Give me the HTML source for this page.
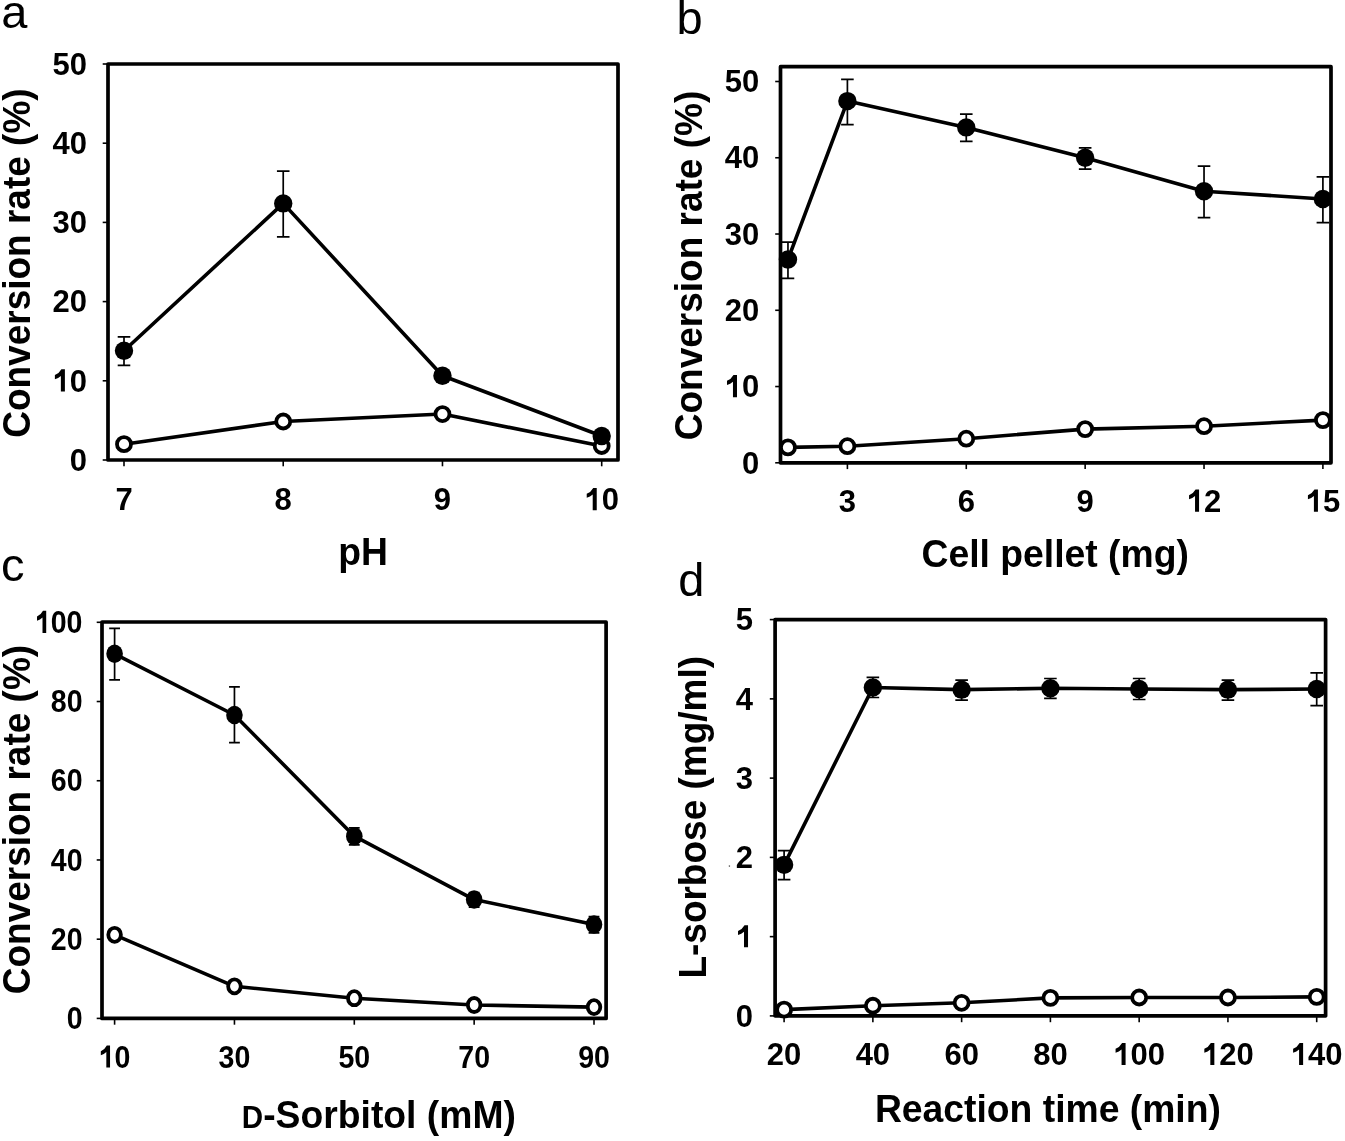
<!DOCTYPE html>
<html><head><meta charset="utf-8"><title>Figure</title>
<style>
html,body{margin:0;padding:0;background:#fff;}
body{width:1345px;height:1141px;overflow:hidden;}
svg{display:block;will-change:transform;}
text{font-family:"Liberation Sans", sans-serif;fill:#000;}
.t{font-size:31px;font-weight:bold;}
.l{font-size:37px;font-weight:bold;}
.x{font-size:37.3px;font-weight:bold;}
.p{font-size:47px;font-weight:normal;}
</style></head><body>
<svg width="1345" height="1141" viewBox="0 0 1345 1141">
<rect width="1345" height="1141" fill="#fff"/>
<line x1="102.70" y1="460.00" x2="108.00" y2="460.00" stroke="#000" stroke-width="1.6"/>
<g transform="translate(87.10,470.70) scale(1.0,1.04)"><text x="-17.241" y="0" class="t">0</text></g>
<line x1="102.70" y1="380.80" x2="108.00" y2="380.80" stroke="#000" stroke-width="1.6"/>
<g transform="translate(87.10,391.50) scale(1.0,1.04)"><text x="-34.481" y="0" class="t"> 0</text><path transform="translate(-34.481,0) scale(0.015137,-0.015137)" d="M811,0L545,0L545,990Q380,846 150,784L150,1041Q420,1135 580,1410L811,1410Z"/></g>
<line x1="102.70" y1="301.60" x2="108.00" y2="301.60" stroke="#000" stroke-width="1.6"/>
<g transform="translate(87.10,312.30) scale(1.0,1.04)"><text x="-34.481" y="0" class="t">20</text></g>
<line x1="102.70" y1="222.40" x2="108.00" y2="222.40" stroke="#000" stroke-width="1.6"/>
<g transform="translate(87.10,233.10) scale(1.0,1.04)"><text x="-34.481" y="0" class="t">30</text></g>
<line x1="102.70" y1="143.20" x2="108.00" y2="143.20" stroke="#000" stroke-width="1.6"/>
<g transform="translate(87.10,153.90) scale(1.0,1.04)"><text x="-34.481" y="0" class="t">40</text></g>
<line x1="102.70" y1="64.00" x2="108.00" y2="64.00" stroke="#000" stroke-width="1.6"/>
<g transform="translate(87.10,74.70) scale(1.0,1.04)"><text x="-34.481" y="0" class="t">50</text></g>
<line x1="124.00" y1="460.00" x2="124.00" y2="466.30" stroke="#000" stroke-width="1.6"/>
<g transform="translate(124.00,510.20) scale(1.0,1.04)"><text x="-8.620" y="0" class="t">7</text></g>
<line x1="283.23" y1="460.00" x2="283.23" y2="466.30" stroke="#000" stroke-width="1.6"/>
<g transform="translate(283.23,510.20) scale(1.0,1.04)"><text x="-8.620" y="0" class="t">8</text></g>
<line x1="442.47" y1="460.00" x2="442.47" y2="466.30" stroke="#000" stroke-width="1.6"/>
<g transform="translate(442.47,510.20) scale(1.0,1.04)"><text x="-8.620" y="0" class="t">9</text></g>
<line x1="601.70" y1="460.00" x2="601.70" y2="466.30" stroke="#000" stroke-width="1.6"/>
<g transform="translate(601.70,510.20) scale(1.0,1.04)"><text x="-17.241" y="0" class="t"> 0</text><path transform="translate(-17.241,0) scale(0.015137,-0.015137)" d="M811,0L545,0L545,990Q380,846 150,784L150,1041Q420,1135 580,1410L811,1410Z"/></g>
<rect x="108.00" y="64.00" width="510.00" height="396.00" fill="none" stroke="#000" stroke-width="3.7" stroke-linejoin="round"/>
<polyline points="124.00,444.16 283.23,421.51 442.47,414.06 601.70,445.98" fill="none" stroke="#000" stroke-width="3.6" stroke-linejoin="round"/>
<polyline points="124.00,350.70 283.23,203.39 442.47,375.73 601.70,436.00" fill="none" stroke="#000" stroke-width="3.6" stroke-linejoin="round"/>
<path d="M124.00,336.80V365.30M117.70,336.80H130.30M117.70,365.30H130.30" stroke="#000" stroke-width="1.7" fill="none"/>
<path d="M283.23,171.20V236.80M276.93,171.20H289.53M276.93,236.80H289.53" stroke="#000" stroke-width="1.7" fill="none"/>
<ellipse cx="124.00" cy="444.16" rx="7.00" ry="7.00" fill="#fff" stroke="#000" stroke-width="3.8"/>
<ellipse cx="283.23" cy="421.51" rx="7.00" ry="7.00" fill="#fff" stroke="#000" stroke-width="3.8"/>
<ellipse cx="442.47" cy="414.06" rx="7.00" ry="7.00" fill="#fff" stroke="#000" stroke-width="3.8"/>
<ellipse cx="601.70" cy="445.98" rx="7.00" ry="7.00" fill="#fff" stroke="#000" stroke-width="3.8"/>
<ellipse cx="124.00" cy="350.70" rx="9.20" ry="9.20" fill="#000"/>
<ellipse cx="283.23" cy="203.39" rx="9.20" ry="9.20" fill="#000"/>
<ellipse cx="442.47" cy="375.73" rx="9.20" ry="9.20" fill="#000"/>
<ellipse cx="601.70" cy="436.00" rx="9.20" ry="9.20" fill="#000"/>
<text transform="translate(363.00,564.50) scale(1,1.04)" text-anchor="middle" class="x">pH</text>
<text transform="translate(29.80,437.80) rotate(-90) scale(1,1.04)" class="l">Conversion rate (%)</text>
<text x="1.30" y="27.60" class="p">a</text>
<line x1="775.20" y1="462.80" x2="780.50" y2="462.80" stroke="#000" stroke-width="1.6"/>
<g transform="translate(759.20,473.50) scale(1.0,1.04)"><text x="-17.241" y="0" class="t">0</text></g>
<line x1="775.20" y1="386.54" x2="780.50" y2="386.54" stroke="#000" stroke-width="1.6"/>
<g transform="translate(759.20,397.24) scale(1.0,1.04)"><text x="-34.481" y="0" class="t"> 0</text><path transform="translate(-34.481,0) scale(0.015137,-0.015137)" d="M811,0L545,0L545,990Q380,846 150,784L150,1041Q420,1135 580,1410L811,1410Z"/></g>
<line x1="775.20" y1="310.28" x2="780.50" y2="310.28" stroke="#000" stroke-width="1.6"/>
<g transform="translate(759.20,320.98) scale(1.0,1.04)"><text x="-34.481" y="0" class="t">20</text></g>
<line x1="775.20" y1="234.02" x2="780.50" y2="234.02" stroke="#000" stroke-width="1.6"/>
<g transform="translate(759.20,244.72) scale(1.0,1.04)"><text x="-34.481" y="0" class="t">30</text></g>
<line x1="775.20" y1="157.76" x2="780.50" y2="157.76" stroke="#000" stroke-width="1.6"/>
<g transform="translate(759.20,168.46) scale(1.0,1.04)"><text x="-34.481" y="0" class="t">40</text></g>
<line x1="775.20" y1="81.50" x2="780.50" y2="81.50" stroke="#000" stroke-width="1.6"/>
<g transform="translate(759.20,92.20) scale(1.0,1.04)"><text x="-34.481" y="0" class="t">50</text></g>
<line x1="847.40" y1="462.80" x2="847.40" y2="469.10" stroke="#000" stroke-width="1.6"/>
<g transform="translate(847.40,511.70) scale(1.0,1.04)"><text x="-8.620" y="0" class="t">3</text></g>
<line x1="966.27" y1="462.80" x2="966.27" y2="469.10" stroke="#000" stroke-width="1.6"/>
<g transform="translate(966.27,511.70) scale(1.0,1.04)"><text x="-8.620" y="0" class="t">6</text></g>
<line x1="1085.15" y1="462.80" x2="1085.15" y2="469.10" stroke="#000" stroke-width="1.6"/>
<g transform="translate(1085.15,511.70) scale(1.0,1.04)"><text x="-8.620" y="0" class="t">9</text></g>
<line x1="1204.03" y1="462.80" x2="1204.03" y2="469.10" stroke="#000" stroke-width="1.6"/>
<g transform="translate(1204.03,511.70) scale(1.0,1.04)"><text x="-17.241" y="0" class="t"> 2</text><path transform="translate(-17.241,0) scale(0.015137,-0.015137)" d="M811,0L545,0L545,990Q380,846 150,784L150,1041Q420,1135 580,1410L811,1410Z"/></g>
<line x1="1322.90" y1="462.80" x2="1322.90" y2="469.10" stroke="#000" stroke-width="1.6"/>
<g transform="translate(1322.90,511.70) scale(1.0,1.04)"><text x="-17.241" y="0" class="t"> 5</text><path transform="translate(-17.241,0) scale(0.015137,-0.015137)" d="M811,0L545,0L545,990Q380,846 150,784L150,1041Q420,1135 580,1410L811,1410Z"/></g>
<rect x="780.50" y="66.70" width="550.50" height="396.10" fill="none" stroke="#000" stroke-width="3.7" stroke-linejoin="round"/>
<polyline points="787.96,447.40 847.40,446.18 966.27,438.70 1085.15,429.09 1204.03,426.20 1322.90,420.09" fill="none" stroke="#000" stroke-width="3.6" stroke-linejoin="round"/>
<polyline points="787.96,259.49 847.40,101.10 966.27,127.41 1085.15,157.76 1204.03,191.31 1322.90,198.94" fill="none" stroke="#000" stroke-width="3.6" stroke-linejoin="round"/>
<path d="M787.96,242.20V278.40M781.66,242.20H794.26M781.66,278.40H794.26" stroke="#000" stroke-width="1.7" fill="none"/>
<path d="M847.40,79.40V124.70M841.10,79.40H853.70M841.10,124.70H853.70" stroke="#000" stroke-width="1.7" fill="none"/>
<path d="M966.27,114.20V141.40M959.98,114.20H972.57M959.98,141.40H972.57" stroke="#000" stroke-width="1.7" fill="none"/>
<path d="M1085.15,147.90V169.10M1078.85,147.90H1091.45M1078.85,169.10H1091.45" stroke="#000" stroke-width="1.7" fill="none"/>
<path d="M1204.03,166.20V217.70M1197.73,166.20H1210.33M1197.73,217.70H1210.33" stroke="#000" stroke-width="1.7" fill="none"/>
<path d="M1322.90,176.90V222.60M1316.60,176.90H1329.20M1316.60,222.60H1329.20" stroke="#000" stroke-width="1.7" fill="none"/>
<ellipse cx="787.96" cy="447.40" rx="7.00" ry="7.00" fill="#fff" stroke="#000" stroke-width="3.8"/>
<ellipse cx="847.40" cy="446.18" rx="7.00" ry="7.00" fill="#fff" stroke="#000" stroke-width="3.8"/>
<ellipse cx="966.27" cy="438.70" rx="7.00" ry="7.00" fill="#fff" stroke="#000" stroke-width="3.8"/>
<ellipse cx="1085.15" cy="429.09" rx="7.00" ry="7.00" fill="#fff" stroke="#000" stroke-width="3.8"/>
<ellipse cx="1204.03" cy="426.20" rx="7.00" ry="7.00" fill="#fff" stroke="#000" stroke-width="3.8"/>
<ellipse cx="1322.90" cy="420.09" rx="7.00" ry="7.00" fill="#fff" stroke="#000" stroke-width="3.8"/>
<ellipse cx="787.96" cy="259.49" rx="9.20" ry="9.20" fill="#000"/>
<ellipse cx="847.40" cy="101.10" rx="9.20" ry="9.20" fill="#000"/>
<ellipse cx="966.27" cy="127.41" rx="9.20" ry="9.20" fill="#000"/>
<ellipse cx="1085.15" cy="157.76" rx="9.20" ry="9.20" fill="#000"/>
<ellipse cx="1204.03" cy="191.31" rx="9.20" ry="9.20" fill="#000"/>
<ellipse cx="1322.90" cy="198.94" rx="9.20" ry="9.20" fill="#000"/>
<text transform="translate(1055.20,567.00) scale(1,1.04)" text-anchor="middle" class="x">Cell pellet (mg)</text>
<text transform="translate(702.00,440.20) rotate(-90) scale(1,1.04)" class="l">Conversion rate (%)</text>
<text x="676.60" y="33.80" class="p">b</text>
<line x1="96.70" y1="1018.40" x2="102.00" y2="1018.40" stroke="#000" stroke-width="1.6"/>
<g transform="translate(82.50,1029.10) scale(0.92,1.04)"><text x="-17.241" y="0" class="t">0</text></g>
<line x1="96.70" y1="939.18" x2="102.00" y2="939.18" stroke="#000" stroke-width="1.6"/>
<g transform="translate(82.50,949.88) scale(0.92,1.04)"><text x="-34.481" y="0" class="t">20</text></g>
<line x1="96.70" y1="859.96" x2="102.00" y2="859.96" stroke="#000" stroke-width="1.6"/>
<g transform="translate(82.50,870.66) scale(0.92,1.04)"><text x="-34.481" y="0" class="t">40</text></g>
<line x1="96.70" y1="780.74" x2="102.00" y2="780.74" stroke="#000" stroke-width="1.6"/>
<g transform="translate(82.50,791.44) scale(0.92,1.04)"><text x="-34.481" y="0" class="t">60</text></g>
<line x1="96.70" y1="701.52" x2="102.00" y2="701.52" stroke="#000" stroke-width="1.6"/>
<g transform="translate(82.50,712.22) scale(0.92,1.04)"><text x="-34.481" y="0" class="t">80</text></g>
<line x1="96.70" y1="622.30" x2="102.00" y2="622.30" stroke="#000" stroke-width="1.6"/>
<g transform="translate(82.50,633.00) scale(0.92,1.04)"><text x="-51.722" y="0" class="t"> 00</text><path transform="translate(-51.722,0) scale(0.015137,-0.015137)" d="M811,0L545,0L545,990Q380,846 150,784L150,1041Q420,1135 580,1410L811,1410Z"/></g>
<line x1="114.60" y1="1018.40" x2="114.60" y2="1024.70" stroke="#000" stroke-width="1.6"/>
<g transform="translate(114.60,1067.60) scale(0.92,1.04)"><text x="-17.241" y="0" class="t"> 0</text><path transform="translate(-17.241,0) scale(0.015137,-0.015137)" d="M811,0L545,0L545,990Q380,846 150,784L150,1041Q420,1135 580,1410L811,1410Z"/></g>
<line x1="234.45" y1="1018.40" x2="234.45" y2="1024.70" stroke="#000" stroke-width="1.6"/>
<g transform="translate(234.45,1067.60) scale(0.92,1.04)"><text x="-17.241" y="0" class="t">30</text></g>
<line x1="354.30" y1="1018.40" x2="354.30" y2="1024.70" stroke="#000" stroke-width="1.6"/>
<g transform="translate(354.30,1067.60) scale(0.92,1.04)"><text x="-17.241" y="0" class="t">50</text></g>
<line x1="474.15" y1="1018.40" x2="474.15" y2="1024.70" stroke="#000" stroke-width="1.6"/>
<g transform="translate(474.15,1067.60) scale(0.92,1.04)"><text x="-17.241" y="0" class="t">70</text></g>
<line x1="594.00" y1="1018.40" x2="594.00" y2="1024.70" stroke="#000" stroke-width="1.6"/>
<g transform="translate(594.00,1067.60) scale(0.92,1.04)"><text x="-17.241" y="0" class="t">90</text></g>
<rect x="102.00" y="622.00" width="504.10" height="396.40" fill="none" stroke="#000" stroke-width="3.7" stroke-linejoin="round"/>
<polyline points="114.60,934.82 234.45,986.32 354.30,998.20 474.15,1005.01 594.00,1007.11" fill="none" stroke="#000" stroke-width="3.6" stroke-linejoin="round"/>
<polyline points="114.60,653.79 234.45,714.99 354.30,836.19 474.15,899.57 594.00,924.52" fill="none" stroke="#000" stroke-width="3.6" stroke-linejoin="round"/>
<path d="M114.60,628.30V679.80M109.20,628.30H120.00M109.20,679.80H120.00" stroke="#000" stroke-width="1.7" fill="none"/>
<path d="M234.45,686.90V742.70M229.05,686.90H239.85M229.05,742.70H239.85" stroke="#000" stroke-width="1.7" fill="none"/>
<path d="M354.30,827.90V844.90M348.90,827.90H359.70M348.90,844.90H359.70" stroke="#000" stroke-width="1.7" fill="none"/>
<path d="M474.15,892.60V907.20M468.75,892.60H479.55M468.75,907.20H479.55" stroke="#000" stroke-width="1.7" fill="none"/>
<path d="M594.00,916.60V932.80M588.60,916.60H599.40M588.60,932.80H599.40" stroke="#000" stroke-width="1.7" fill="none"/>
<ellipse cx="114.60" cy="934.82" rx="6.30" ry="7.00" fill="#fff" stroke="#000" stroke-width="3.8"/>
<ellipse cx="234.45" cy="986.32" rx="6.30" ry="7.00" fill="#fff" stroke="#000" stroke-width="3.8"/>
<ellipse cx="354.30" cy="998.20" rx="6.30" ry="7.00" fill="#fff" stroke="#000" stroke-width="3.8"/>
<ellipse cx="474.15" cy="1005.01" rx="6.30" ry="7.00" fill="#fff" stroke="#000" stroke-width="3.8"/>
<ellipse cx="594.00" cy="1007.11" rx="6.30" ry="7.00" fill="#fff" stroke="#000" stroke-width="3.8"/>
<ellipse cx="114.60" cy="653.79" rx="8.28" ry="9.20" fill="#000"/>
<ellipse cx="234.45" cy="714.99" rx="8.28" ry="9.20" fill="#000"/>
<ellipse cx="354.30" cy="836.19" rx="8.28" ry="9.20" fill="#000"/>
<ellipse cx="474.15" cy="899.57" rx="8.28" ry="9.20" fill="#000"/>
<ellipse cx="594.00" cy="924.52" rx="8.28" ry="9.20" fill="#000"/>
<text transform="translate(241.80,1128.30) scale(1,1.04)" text-anchor="start" class="x"><tspan style="font-size:29.6px">D</tspan>-Sorbitol (mM)</text>
<text transform="translate(29.80,994.30) rotate(-90) scale(1,1.04)" class="l">Conversion rate (%)</text>
<text x="0.90" y="580.90" class="p">c</text>
<line x1="769.80" y1="1015.90" x2="775.10" y2="1015.90" stroke="#000" stroke-width="1.6"/>
<g transform="translate(753.00,1026.60) scale(1.0,1.04)"><text x="-17.241" y="0" class="t">0</text></g>
<line x1="769.80" y1="936.64" x2="775.10" y2="936.64" stroke="#000" stroke-width="1.6"/>
<g transform="translate(753.00,947.34) scale(1.0,1.04)"><path transform="translate(-17.241,0) scale(0.015137,-0.015137)" d="M811,0L545,0L545,990Q380,846 150,784L150,1041Q420,1135 580,1410L811,1410Z"/></g>
<line x1="769.80" y1="857.38" x2="775.10" y2="857.38" stroke="#000" stroke-width="1.6"/>
<g transform="translate(753.00,868.08) scale(1.0,1.04)"><text x="-17.241" y="0" class="t">2</text></g>
<line x1="769.80" y1="778.12" x2="775.10" y2="778.12" stroke="#000" stroke-width="1.6"/>
<g transform="translate(753.00,788.82) scale(1.0,1.04)"><text x="-17.241" y="0" class="t">3</text></g>
<line x1="769.80" y1="698.86" x2="775.10" y2="698.86" stroke="#000" stroke-width="1.6"/>
<g transform="translate(753.00,709.56) scale(1.0,1.04)"><text x="-17.241" y="0" class="t">4</text></g>
<line x1="769.80" y1="619.60" x2="775.10" y2="619.60" stroke="#000" stroke-width="1.6"/>
<g transform="translate(753.00,630.30) scale(1.0,1.04)"><text x="-17.241" y="0" class="t">5</text></g>
<line x1="784.10" y1="1015.90" x2="784.10" y2="1022.20" stroke="#000" stroke-width="1.6"/>
<g transform="translate(784.10,1065.10) scale(1.0,1.04)"><text x="-17.241" y="0" class="t">20</text></g>
<line x1="872.87" y1="1015.90" x2="872.87" y2="1022.20" stroke="#000" stroke-width="1.6"/>
<g transform="translate(872.87,1065.10) scale(1.0,1.04)"><text x="-17.241" y="0" class="t">40</text></g>
<line x1="961.63" y1="1015.90" x2="961.63" y2="1022.20" stroke="#000" stroke-width="1.6"/>
<g transform="translate(961.63,1065.10) scale(1.0,1.04)"><text x="-17.241" y="0" class="t">60</text></g>
<line x1="1050.40" y1="1015.90" x2="1050.40" y2="1022.20" stroke="#000" stroke-width="1.6"/>
<g transform="translate(1050.40,1065.10) scale(1.0,1.04)"><text x="-17.241" y="0" class="t">80</text></g>
<line x1="1139.17" y1="1015.90" x2="1139.17" y2="1022.20" stroke="#000" stroke-width="1.6"/>
<g transform="translate(1139.17,1065.10) scale(1.0,1.04)"><text x="-25.861" y="0" class="t"> 00</text><path transform="translate(-25.861,0) scale(0.015137,-0.015137)" d="M811,0L545,0L545,990Q380,846 150,784L150,1041Q420,1135 580,1410L811,1410Z"/></g>
<line x1="1227.93" y1="1015.90" x2="1227.93" y2="1022.20" stroke="#000" stroke-width="1.6"/>
<g transform="translate(1227.93,1065.10) scale(1.0,1.04)"><text x="-25.861" y="0" class="t"> 20</text><path transform="translate(-25.861,0) scale(0.015137,-0.015137)" d="M811,0L545,0L545,990Q380,846 150,784L150,1041Q420,1135 580,1410L811,1410Z"/></g>
<line x1="1316.70" y1="1015.90" x2="1316.70" y2="1022.20" stroke="#000" stroke-width="1.6"/>
<g transform="translate(1316.70,1065.10) scale(1.0,1.04)"><text x="-25.861" y="0" class="t"> 40</text><path transform="translate(-25.861,0) scale(0.015137,-0.015137)" d="M811,0L545,0L545,990Q380,846 150,784L150,1041Q420,1135 580,1410L811,1410Z"/></g>
<rect x="775.10" y="619.60" width="550.50" height="396.30" fill="none" stroke="#000" stroke-width="3.7" stroke-linejoin="round"/>
<polyline points="784.10,1009.64 872.87,1005.75 961.63,1002.82 1050.40,997.91 1139.17,997.51 1227.93,997.51 1316.70,996.88" fill="none" stroke="#000" stroke-width="3.6" stroke-linejoin="round"/>
<polyline points="784.10,864.83 872.87,687.45 961.63,689.67 1050.40,688.32 1139.17,689.03 1227.93,689.67 1316.70,689.03" fill="none" stroke="#000" stroke-width="3.6" stroke-linejoin="round"/>
<path d="M784.10,850.70V879.70M777.80,850.70H790.40M777.80,879.70H790.40" stroke="#000" stroke-width="1.7" fill="none"/>
<path d="M872.87,677.40V697.50M866.57,677.40H879.17M866.57,697.50H879.17" stroke="#000" stroke-width="1.7" fill="none"/>
<path d="M961.63,680.10V700.20M955.33,680.10H967.93M955.33,700.20H967.93" stroke="#000" stroke-width="1.7" fill="none"/>
<path d="M1050.40,678.50V698.40M1044.10,678.50H1056.70M1044.10,698.40H1056.70" stroke="#000" stroke-width="1.7" fill="none"/>
<path d="M1139.17,678.50V699.50M1132.87,678.50H1145.47M1132.87,699.50H1145.47" stroke="#000" stroke-width="1.7" fill="none"/>
<path d="M1227.93,680.10V700.20M1221.63,680.10H1234.23M1221.63,700.20H1234.23" stroke="#000" stroke-width="1.7" fill="none"/>
<path d="M1316.70,672.90V705.70M1310.40,672.90H1323.00M1310.40,705.70H1323.00" stroke="#000" stroke-width="1.7" fill="none"/>
<ellipse cx="784.10" cy="1009.64" rx="7.00" ry="7.00" fill="#fff" stroke="#000" stroke-width="3.8"/>
<ellipse cx="872.87" cy="1005.75" rx="7.00" ry="7.00" fill="#fff" stroke="#000" stroke-width="3.8"/>
<ellipse cx="961.63" cy="1002.82" rx="7.00" ry="7.00" fill="#fff" stroke="#000" stroke-width="3.8"/>
<ellipse cx="1050.40" cy="997.91" rx="7.00" ry="7.00" fill="#fff" stroke="#000" stroke-width="3.8"/>
<ellipse cx="1139.17" cy="997.51" rx="7.00" ry="7.00" fill="#fff" stroke="#000" stroke-width="3.8"/>
<ellipse cx="1227.93" cy="997.51" rx="7.00" ry="7.00" fill="#fff" stroke="#000" stroke-width="3.8"/>
<ellipse cx="1316.70" cy="996.88" rx="7.00" ry="7.00" fill="#fff" stroke="#000" stroke-width="3.8"/>
<ellipse cx="784.10" cy="864.83" rx="9.20" ry="9.20" fill="#000"/>
<ellipse cx="872.87" cy="687.45" rx="9.20" ry="9.20" fill="#000"/>
<ellipse cx="961.63" cy="689.67" rx="9.20" ry="9.20" fill="#000"/>
<ellipse cx="1050.40" cy="688.32" rx="9.20" ry="9.20" fill="#000"/>
<ellipse cx="1139.17" cy="689.03" rx="9.20" ry="9.20" fill="#000"/>
<ellipse cx="1227.93" cy="689.67" rx="9.20" ry="9.20" fill="#000"/>
<ellipse cx="1316.70" cy="689.03" rx="9.20" ry="9.20" fill="#000"/>
<text transform="translate(1047.90,1122.00) scale(1,1.04)" text-anchor="middle" class="x">Reaction time (min)</text>
<text transform="translate(706.30,978.60) rotate(-90) scale(1,1.04)" class="l">L-sorbose (mg/ml)</text>
<text x="678.20" y="596.40" class="p">d</text>
<circle cx="729.4" cy="866.1" r="0.8" fill="#555"/>
</svg>
</body></html>
